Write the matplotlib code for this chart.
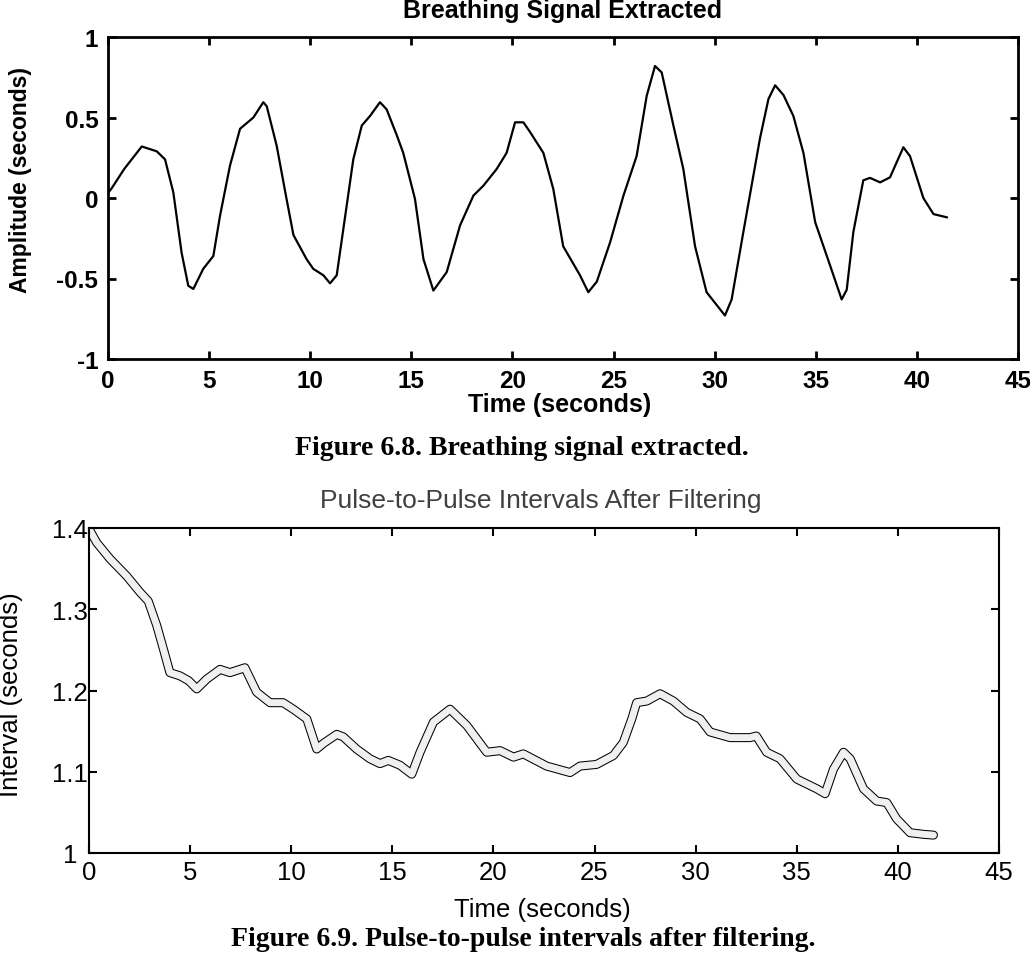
import numpy as np
from matplotlib import pyplot as plt
from matplotlib import transforms

# breathing signal (fig 6.8)
breath_t = [0.0, 0.18, 0.8, 1.67, 2.41, 2.82, 3.23, 3.64, 3.97, 4.22, 4.71, 5.21, 5.54,
            6.03, 6.53, 7.19, 7.68, 7.85, 8.34, 8.83, 9.17, 9.82, 10.15, 10.65, 10.98,
            11.31, 11.8, 12.13, 12.55, 12.96, 13.45, 13.78, 14.28, 14.6, 15.18, 15.6,
            16.09, 16.75, 17.41, 18.07, 18.56, 19.22, 19.71, 20.13, 20.54, 20.87, 21.53,
            22.02, 22.51, 23.34, 23.75, 24.17, 24.83, 25.49, 26.14, 26.64, 27.05, 27.38,
            27.96, 28.45, 29.03, 29.6, 30.51, 30.84, 31.42, 32.24, 32.66, 32.99, 33.4,
            33.89, 34.39, 34.97, 35.71, 36.28, 36.53, 36.86, 37.35, 37.68, 38.18, 38.67,
            39.33, 39.66, 40.32, 40.82, 41.48]
breath_a = [0.03, 0.06, 0.18, 0.32, 0.29, 0.24, 0.035, -0.34, -0.545, -0.565, -0.44, -0.36,
            -0.11, 0.2, 0.43, 0.5, 0.595, 0.57, 0.325, -0.006, -0.23, -0.38, -0.44, -0.48,
            -0.53, -0.48, -0.05, 0.24, 0.45, 0.51, 0.595, 0.55, 0.39, 0.28, -0.006, -0.38,
            -0.575, -0.46, -0.17, 0.015, 0.076, 0.18, 0.28, 0.47, 0.47, 0.41, 0.28, 0.056,
            -0.3, -0.48, -0.585, -0.52, -0.275, 0.015, 0.26, 0.635, 0.82, 0.78, 0.45, 0.18,
            -0.3, -0.585, -0.73, -0.63, -0.21, 0.37, 0.615, 0.7, 0.64, 0.51, 0.28, -0.15,
            -0.42, -0.63, -0.57, -0.21, 0.11, 0.125, 0.097, 0.128, 0.315, 0.26, 0.0, -0.1,
            -0.12]

# pulse-to-pulse intervals (fig 6.9)
pulse_t = [0.0, 0.38, 1.04, 1.86, 2.52, 2.93, 3.35, 3.68, 4.0, 4.5, 4.93, 5.33, 5.82, 6.48,
           6.97, 7.71, 8.29, 8.95, 9.6, 10.1, 10.77, 11.26, 11.6, 12.25, 12.57, 13.23, 13.89,
           14.39, 14.8, 15.38, 15.96, 16.37, 17.03, 17.85, 18.68, 19.67, 20.33, 20.99, 21.48,
           22.63, 23.79, 24.28, 25.1, 25.93, 26.42, 26.84, 27.08, 27.58, 28.24, 28.9, 29.56,
           30.22, 30.71, 31.7, 32.69, 33.0, 33.51, 34.17, 35.0, 35.99, 36.4, 36.81, 37.31,
           37.64, 38.3, 38.95, 39.45, 39.94, 40.6, 41.26, 41.76]
pulse_v = [1.399, 1.382, 1.362, 1.341, 1.321, 1.31, 1.28, 1.251, 1.222, 1.218, 1.212, 1.202,
           1.214, 1.226, 1.222, 1.228, 1.198, 1.185, 1.185, 1.177, 1.165, 1.128, 1.135, 1.146,
           1.143, 1.128, 1.116, 1.11, 1.114, 1.108, 1.097, 1.124, 1.161, 1.177, 1.157, 1.124,
           1.126, 1.118, 1.122, 1.107, 1.099, 1.107, 1.109, 1.12, 1.136, 1.165, 1.185, 1.187,
           1.196, 1.187, 1.173, 1.165, 1.149, 1.142, 1.142, 1.144, 1.124, 1.116, 1.091, 1.079,
           1.073, 1.103, 1.124, 1.116, 1.079, 1.064, 1.062, 1.042, 1.025, 1.023, 1.022]

x_ticks = [0, 5, 10, 15, 20, 25, 30, 35, 40, 45]

W, H = 1030, 954
fig = plt.figure(figsize=(W / 100, H / 100), dpi=100)
sans = 'Liberation Sans'
serif = 'Liberation Serif'


def rect(l, t, r, b):
    return [l / W, 1 - b / H, (r - l) / W, (b - t) / H]


def matlab_axes(ax, lw, size):
    ax.tick_params(axis='both', direction='in', top=True, right=True,
                   length=6, width=lw, labelsize=size)
    for s in ax.spines.values():
        s.set_linewidth(lw)
    for lab in ax.get_xticklabels() + ax.get_yticklabels():
        lab.set_fontfamily(sans)


# --- top chart
ax1 = fig.add_axes(rect(108, 38, 1018, 360))
ax1.plot(breath_t, breath_a, color='black', lw=1.6)
ax1.set_xlim(0, 45)
ax1.set_ylim(-1, 1)
ax1.set_xticks(x_ticks)
ax1.set_yticks([-1, -0.5, 0, 0.5, 1])
ax1.set_yticklabels(['-1', '-0.5', '0', '0.5', '1'])
matlab_axes(ax1, 2.0, 17.5)
ax1.tick_params(axis='x', pad=7)
ax1.tick_params(axis='y', pad=7)
for lab in ax1.get_xticklabels() + ax1.get_yticklabels():
    lab.set_fontweight('bold')

fig.text(563 / W, 1 - 18 / H, 'Breathing Signal Extracted', ha='center', va='baseline',
         fontsize=18, fontweight='bold', family=sans)
fig.text(560 / W, 1 - 412 / H, 'Time (seconds)', ha='center', va='baseline',
         fontsize=18, fontweight='bold', family=sans)
fig.text(21 / W, 1 - 180 / H, 'Amplitude (seconds)', ha='center', va='center',
         rotation=90, fontsize=16.5, fontweight='bold', family=sans)
fig.text(522 / W, 1 - 455 / H, 'Figure 6.8. Breathing signal extracted.', ha='center',
         va='baseline', fontsize=20, fontweight='bold', family=serif)

# --- bottom chart
ax2 = fig.add_axes(rect(89, 529, 999, 854))
ax2.plot(pulse_t, pulse_v, color='black', lw=6.5, solid_capstyle='round',
         solid_joinstyle='round')
ax2.plot(pulse_t, pulse_v, color='#f0f0f0', lw=5, solid_capstyle='round',
         solid_joinstyle='round')
ax2.set_xlim(0, 45)
ax2.set_ylim(1, 1.4)
ax2.set_xticks(x_ticks)
ax2.set_yticks([1, 1.1, 1.2, 1.3, 1.4])
ax2.set_yticklabels(['1', '1.1', '1.2', '1.3', '1.4'])
matlab_axes(ax2, 1.5, 18.5)
ax2.tick_params(axis='x', pad=5)
ax2.tick_params(axis='y', pad=1)
# the lone "1" sits a bit further left in the original
lab0 = ax2.get_yticklabels()[0]
lab0.set_transform(lab0.get_transform() +
                   transforms.ScaledTranslation(-10 / 100, 0, fig.dpi_scale_trans))

fig.text(541 / W, 1 - 508 / H, 'Pulse-to-Pulse Intervals After Filtering', ha='center',
         va='baseline', fontsize=19, color='#404040', family=sans)
fig.text(542 / W, 1 - 917 / H, 'Time (seconds)', ha='center', va='baseline',
         fontsize=18.5, family=sans)
fig.text(11 / W, 1 - 695 / H, 'Interval (seconds)', ha='center', va='center',
         rotation=90, fontsize=18.5, family=sans)
fig.text(523 / W, 1 - 946 / H, 'Figure 6.9. Pulse-to-pulse intervals after filtering.',
         ha='center', va='baseline', fontsize=20, fontweight='bold', family=serif)

fig.savefig('out.png', dpi=100)
